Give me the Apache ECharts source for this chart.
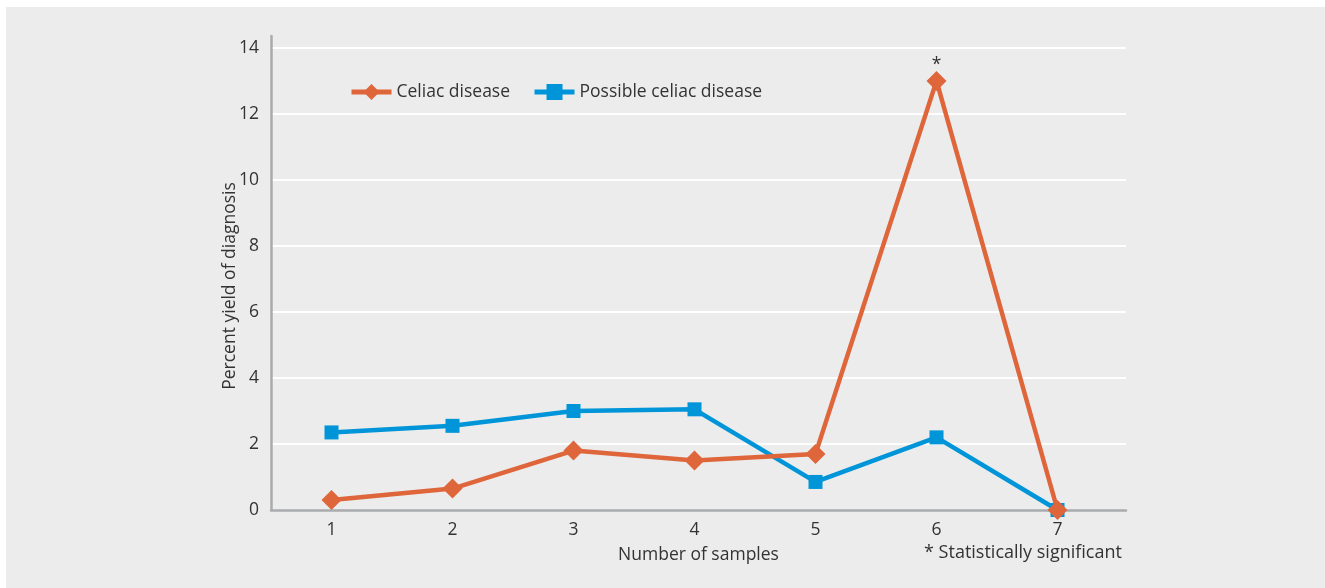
<!DOCTYPE html>
<html>
<head>
<meta charset="utf-8">
<script src="https://cdn.jsdelivr.net/npm/echarts@6/dist/echarts.min.js"></script>
<style>
html,body{margin:0;padding:0;background:#ffffff;}
#c{position:absolute;left:6px;top:7px;width:1319px;height:581px;background:#ebeceb;}
</style>
</head>
<body>
<div id="c"></div>
<script>
const samples = [1, 2, 3, 4, 5, 6, 7];
const celiac = [0.3, 0.65, 1.8, 1.5, 1.7, 13.0, 0];
const possible = [2.35, 2.55, 3.0, 3.05, 0.85, 2.2, 0];
const significantIndex = 5;

const font = '"Open Sans", "Noto Sans", sans-serif';
const fs = 17.5;
const chart = echarts.init(document.getElementById('c'), null, {renderer: 'canvas'});

const celiacData = samples.map((s, i) => {
  const item = {value: [s, celiac[i]]};
  if (i === significantIndex) {
    item.label = {show: true, formatter: '*', position: 'top', distance: -3, color: '#333', fontSize: fs, fontFamily: font};
  }
  return item;
});
const possibleData = samples.map((s, i) => [s, possible[i]]);

chart.setOption({
  animation: false,
  backgroundColor: '#ebeceb',
  textStyle: {fontFamily: font},
  grid: {left: 265, top: 29, width: 855, height: 474, containLabel: false},
  legend: {
    left: 338, top: 71,
    itemWidth: 40, itemHeight: 20, itemGap: 22,
    textStyle: {fontSize: fs, color: '#333', fontFamily: font},
    data: [
      {name: 'Celiac disease', lineStyle: {width: 5}},
      {name: 'Possible celiac disease', lineStyle: {width: 5}}
    ]
  },
  xAxis: {
    type: 'value', min: 0.5, max: 7.566, interval: 0.5,
    name: 'Number of samples', nameLocation: 'middle', nameGap: 36, nameMoveOverlap: false,
    nameTextStyle: {fontSize: fs, color: '#333', fontFamily: font},
    axisLine: {show: true, lineStyle: {color: '#a9abae', width: 2.5}},
    axisTick: {show: false},
    splitLine: {show: false},
    axisLabel: {
      fontSize: fs, color: '#333', margin: 11, fontFamily: font,
      showMinLabel: false, showMaxLabel: false,
      formatter: v => (Math.abs(v - Math.round(v)) < 1e-6 ? String(Math.round(v)) : '')
    }
  },
  yAxis: {
    type: 'value', min: 0, max: 14.36, interval: 2,
    name: 'Percent yield of diagnosis', nameLocation: 'middle', nameGap: 32, nameMoveOverlap: false,
    nameTextStyle: {fontSize: fs, color: '#333', fontFamily: font, padding: [0, 26, 0, 0]},
    axisLine: {show: true, lineStyle: {color: '#a9abae', width: 2.5}},
    axisTick: {show: false},
    splitLine: {show: true, showMaxLine: false, showMinLine: false, lineStyle: {color: '#ffffff', width: 2}},
    axisLabel: {fontSize: fs, color: '#333', margin: 12, fontFamily: font, showMaxLabel: false}
  },
  series: [
    {
      name: 'Celiac disease', type: 'line', data: celiacData,
      symbol: 'diamond', symbolSize: 20,
      lineStyle: {color: '#df653b', width: 4.5},
      itemStyle: {color: '#df653b'},
      z: 3
    },
    {
      name: 'Possible celiac disease', type: 'line', data: possibleData,
      symbol: 'rect', symbolSize: 14,
      lineStyle: {color: '#0095d8', width: 4.5},
      itemStyle: {color: '#0095d8'},
      z: 2
    }
  ],
  graphic: [{
    type: 'text', left: 918, top: 537,
    style: {text: '* Statistically significant', fontSize: fs + 0.5, fill: '#333', fontFamily: font}
  }]
});
</script>
</body>
</html>
